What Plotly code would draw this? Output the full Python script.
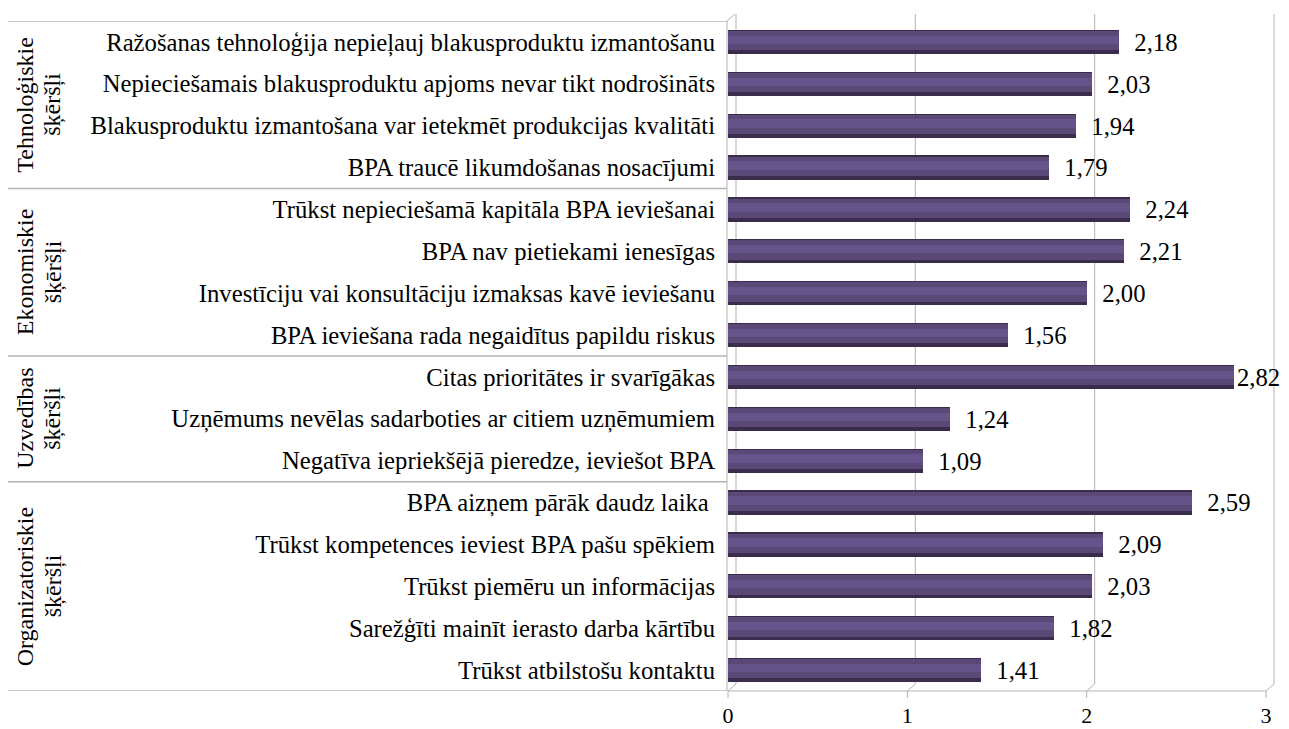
import plotly.graph_objects as go

# ---- data ----
groups = ["Tehnoloģiskie<br>šķēršļi", "Ekonomiskie<br>šķēršļi", "Uzvedības<br>šķēršļi", "Organizatoriskie<br>šķēršļi"]
group_sizes = [4, 4, 3, 5]
categories = [
    "Ražošanas tehnoloģija nepieļauj blakusproduktu izmantošanu",
    "Nepieciešamais blakusproduktu apjoms nevar tikt nodrošināts",
    "Blakusproduktu izmantošana var ietekmēt produkcijas kvalitāti",
    "BPA traucē likumdošanas nosacījumi",
    "Trūkst nepieciešamā kapitāla BPA ieviešanai",
    "BPA nav pietiekami ienesīgas",
    "Investīciju vai konsultāciju izmaksas kavē ieviešanu",
    "BPA ieviešana rada negaidītus papildu riskus",
    "Citas prioritātes ir svarīgākas",
    "Uzņēmums nevēlas sadarboties ar citiem uzņēmumiem",
    "Negatīva iepriekšējā pieredze, ieviešot BPA",
    "BPA aizņem pārāk daudz laika ",
    "Trūkst kompetences ieviest BPA pašu spēkiem",
    "Trūkst piemēru un informācijas",
    "Sarežģīti mainīt ierasto darba kārtību",
    "Trūkst atbilstošu kontaktu",
]
values = [2.18, 2.03, 1.94, 1.79, 2.24, 2.21, 2.00, 1.56, 2.82, 1.24, 1.09, 2.59, 2.09, 2.03, 1.82, 1.41]
x_ticks = [0, 1, 2, 3]

# ---- layout constants (pixels) ----
OFF = 8                       # page body margin
W, H = 1289 - OFF, 729 - OFF  # figure fits inside the window
L, R, T, B = 728 - OFF, 23, 21 - OFF, 38
PW = W - L - R
PH = H - T - B
DX, DY = 8, 7  # 3D depth offset
FONT = "Liberation Serif, Times New Roman, serif"
FS = 24.7
GRID = "#b3b3b3"

n = len(categories)
ypos = list(range(n))

def px_to_paper_x(px):  # px in figure coordinates
    return (px - L) / PW

def px_to_paper_y(py):
    return 1 - (py - T) / PH

labels = [("" if v > 2.7 else "  ") + f"{v:.2f}".replace(".", ",") for v in values]

fig = go.Figure()
fig.add_trace(go.Bar(
    y=ypos, x=values, orientation="h", width=0.58,
    marker=dict(color="#3a2d4c", line=dict(width=0)),
    text=labels, textposition="outside", constraintext="none",
    textfont=dict(family=FONT, size=FS, color="black"),
    cliponaxis=False, hoverinfo="skip", showlegend=False,
))
fig.add_trace(go.Bar(
    y=[p - 0.03 for p in ypos], x=values, orientation="h", width=0.46,
    marker=dict(color="#5a4877", line=dict(width=0)),
    hoverinfo="skip", showlegend=False,
))
fig.add_trace(go.Bar(
    y=[p - 0.05 for p in ypos], x=values, orientation="h", width=0.2,
    marker=dict(color="#65548a", line=dict(width=0)),
    hoverinfo="skip", showlegend=False,
))

shapes = []
yb_front = px_to_paper_y(T + PH)
yb_back = px_to_paper_y(T + PH - DY)
y_top_back = px_to_paper_y(T - DY)
for xv in x_ticks:
    xf = L + xv / 3 * PW
    shapes.append(dict(type="line", xref="paper", yref="paper",
                       x0=px_to_paper_x(xf + DX), x1=px_to_paper_x(xf + DX),
                       y0=yb_back, y1=y_top_back, line=dict(color=GRID, width=1), layer="below"))
    shapes.append(dict(type="line", xref="paper", yref="paper",
                       x0=px_to_paper_x(xf), x1=px_to_paper_x(xf + DX),
                       y0=yb_front, y1=yb_back, line=dict(color=GRID, width=1), layer="below"))
    shapes.append(dict(type="line", xref="paper", yref="paper",
                       x0=px_to_paper_x(xf), x1=px_to_paper_x(xf),
                       y0=yb_front, y1=px_to_paper_y(T + PH + 7), line=dict(color=GRID, width=1)))
shapes.append(dict(type="line", xref="paper", yref="paper",
                   x0=0, x1=1, y0=yb_front, y1=yb_front, line=dict(color=GRID, width=1), layer="below"))
shapes.append(dict(type="line", xref="paper", yref="paper",
                   x0=px_to_paper_x(L - 1), x1=px_to_paper_x(L - 1 + DX),
                   y0=1, y1=y_top_back, line=dict(color=GRID, width=1)))
shapes.append(dict(type="line", xref="paper", yref="paper",
                   x0=px_to_paper_x(L - 1), x1=px_to_paper_x(L - 1),
                   y0=yb_front, y1=1, line=dict(color=GRID, width=1)))

annotations = []
start = 0
x_left = px_to_paper_x(8 - OFF)
line_x = [25 - OFF, 53 - OFF]
for g, size in zip(groups, group_sizes):
    top = start - 0.5
    bot = start + size - 0.5
    shapes.append(dict(type="line", xref="paper", yref="y", x0=x_left, x1=px_to_paper_x(L - 1),
                       y0=top, y1=top, line=dict(color=GRID, width=1.5)))
    for part, lx in zip(g.split("<br>"), line_x):
        annotations.append(dict(x=px_to_paper_x(lx), y=(top + bot) / 2, xref="paper", yref="y",
                                text=part, textangle=-90, showarrow=False,
                                font=dict(family=FONT, size=24, color="black"),
                                xanchor="center", yanchor="middle"))
    start += size
shapes.append(dict(type="line", xref="paper", yref="y", x0=x_left, x1=px_to_paper_x(L - 1),
                   y0=n - 0.5, y1=n - 0.5, line=dict(color=GRID, width=1.5)))

fig.update_layout(
    width=W, height=H,
    margin=dict(l=L, r=R, t=T, b=B, autoexpand=False),
    paper_bgcolor="white", plot_bgcolor="rgba(0,0,0,0)",
    barmode="overlay",
    bargap=0,
    shapes=shapes, annotations=annotations,
    font=dict(family=FONT, size=FS, color="black"),
    xaxis=dict(range=[0, 3], tickvals=x_ticks, ticktext=[str(v) for v in x_ticks],
               showgrid=False, zeroline=False, showline=False, ticks="", automargin=False,
               ticklabelstandoff=9, tickfont=dict(family=FONT, size=22)),
    yaxis=dict(range=[n - 0.5, -0.5], tickvals=ypos, ticktext=categories, automargin=False,
               showgrid=False, zeroline=False, showline=False, ticks="",
               ticklabelstandoff=12, tickfont=dict(family=FONT, size=FS)),
)

fig.write_html("out.html")
